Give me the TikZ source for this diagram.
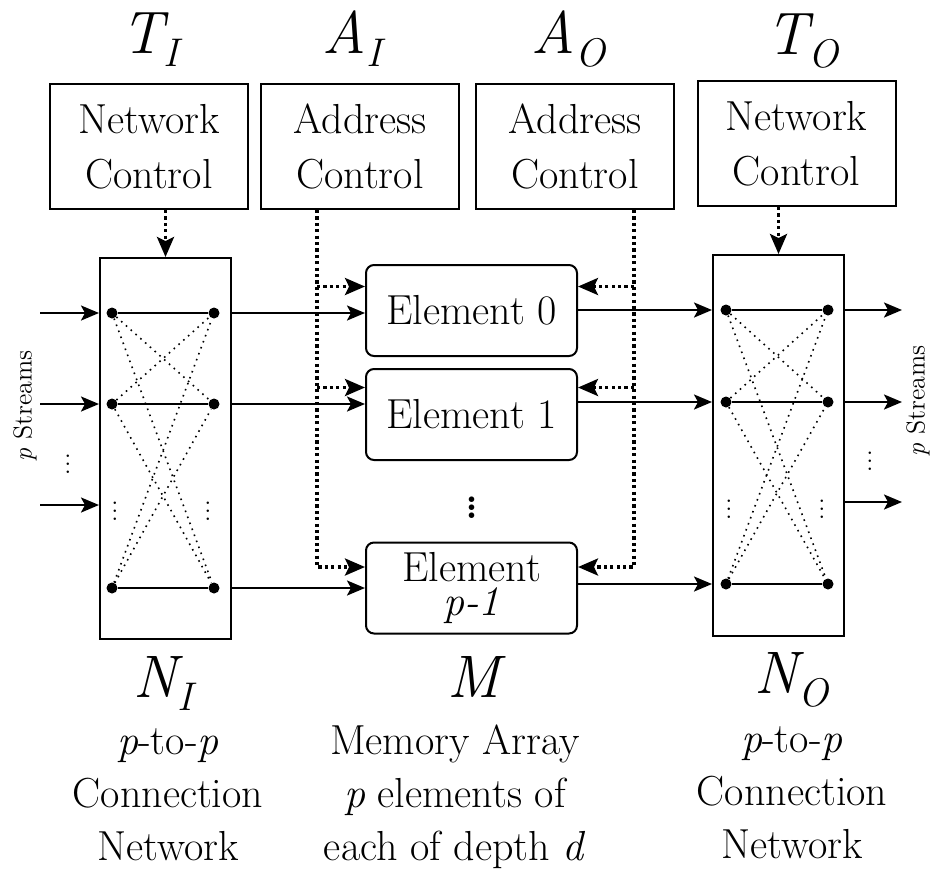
\documentclass[tikz,border=0pt]{standalone}
\usepackage{tikz}
\usetikzlibrary{arrows.meta,positioning}

\newcommand{\bigsym}[3][0em]{{\fontsize{30}{30}\selectfont\textit{#2}\kern#1\raisebox{-0.23em}{\fontsize{20}{20}\selectfont\textit{#3}}}}

\begin{document}
\begin{tikzpicture}[x=0.5pt, y=-0.5pt,
ctrlbox/.style={draw, line width=1pt, minimum width=99pt, minimum height=62.5pt, inner sep=0pt, align=center, font=\fontsize{21}{27.5}\selectfont},
netbox/.style={draw, line width=1pt, minimum width=65.5pt, minimum height=190.5pt, inner sep=0pt},
elem/.style={draw, line width=1pt, rounded corners=4pt, minimum width=105.5pt, minimum height=45.5pt, inner sep=0pt, align=center, font=\fontsize{21}{24}\selectfont},
dot/.style={circle, fill, inner sep=0pt, minimum size=5.5pt},
vd/.style={inner sep=0pt, font=\fontsize{13}{13}\selectfont},
lbl/.style={inner sep=0pt, align=center, font=\fontsize{21}{26.5}\selectfont},
arr/.style={-{Stealth[length=9pt, width=7.5pt, inset=2pt]}, line width=1.2pt},
ctl/.style={-{Stealth[length=10pt, width=8.5pt, inset=2pt]}, line width=1.6pt, dash pattern=on 1.6pt off 1.6pt},
link/.style={line width=0.7pt},
xlink/.style={line width=0.8pt, dash pattern=on 0.8pt off 2.4pt}
]
\useasboundingbox (0,0) rectangle (930,869);

% Control boxes
\node[ctrlbox] (tic) at (149,146.5) {Network\\Control};
\node[ctrlbox, right=5.5pt of tic] (aic) {Address\\Control};
\node[ctrlbox, right=7.5pt of aic] (aoc) {Address\\Control};
\node[ctrlbox] (toc) at (796.5,143.5) {Network\\Control};

\node[anchor=base] (tilbl) at (152,53) {\bigsym[-0.1em]{T}{I}};
\node[anchor=base] (ailbl) at (354,53) {\bigsym{A}{I}};
\node[anchor=base] (aolbl) at (569,53) {\bigsym{A}{O}};
\node[anchor=base] (tolbl) at (803,54) {\bigsym[-0.1em]{T}{O}};

% Connection networks
\node[netbox] (ni) at (165.5,448.5) {};
\node[netbox] (no) at (778.5,445.5) {};

\node[dot] (niL0) at (112,313) {};
\node[dot] (niR0) at (214,313) {};
\node[dot] (niL1) at (112,404) {};
\node[dot] (niR1) at (214,404) {};
\node[dot] (niL2) at (112,588) {};
\node[dot] (niR2) at (214,588) {};
\node[vd] (niVL) at (115,505) {$\vdots$};
\node[vd] (niVR) at (208,505) {$\vdots$};

\node[dot] (noL0) at (726,310) {};
\node[dot] (noR0) at (828,310) {};
\node[dot] (noL1) at (726,402) {};
\node[dot] (noR1) at (828,402) {};
\node[dot] (noL2) at (726,584) {};
\node[dot] (noR2) at (828,584) {};
\node[vd] (noVL) at (729,503) {$\vdots$};
\node[vd] (noVR) at (822,503) {$\vdots$};

\draw[link] (niL0) -- (niR0);
\draw[link] (niL1) -- (niR1);
\draw[link] (niL2) -- (niR2);
\draw[xlink] (niL0) -- (niR1);
\draw[xlink] (niL0) -- (niR2);
\draw[xlink] (niL1) -- (niR0);
\draw[xlink] (niL1) -- (niR2);
\draw[xlink] (niL2) -- (niR0);
\draw[xlink] (niL2) -- (niR1);

\draw[link] (noL0) -- (noR0);
\draw[link] (noL1) -- (noR1);
\draw[link] (noL2) -- (noR2);
\draw[xlink] (noL0) -- (noR1);
\draw[xlink] (noL0) -- (noR2);
\draw[xlink] (noL1) -- (noR0);
\draw[xlink] (noL1) -- (noR2);
\draw[xlink] (noL2) -- (noR0);
\draw[xlink] (noL2) -- (noR1);

% Memory elements
\node[elem] (e0) at (471.5,310.5) {Element 0};
\node[elem, below=5.5pt of e0] (e1) {Element 1};
\node[inner sep=0pt, font=\fontsize{34}{34}\selectfont] (edots) at (471.5,502) {$\vdots$};
\node[elem] (ep) at (471.5,588) {Element\\[-7pt]\textit{p-1}};

% Streams
\coordinate (in0) at (40,313);
\coordinate (in1) at (40,404);
\coordinate (in2) at (40,505);
\coordinate (out0) at (902,310);
\coordinate (out1) at (902,402);
\coordinate (out2) at (902,502);
\node[rotate=90, inner sep=0pt, font=\fontsize{13}{13}\selectfont] (instr) at (25,406) {\textit{p} Streams};
\node[rotate=90, inner sep=0pt, font=\fontsize{13}{13}\selectfont] (outstr) at (918,401) {\textit{p} Streams};
\node[vd] (indots) at (68,458) {$\vdots$};
\node[vd] (outdots) at (870,455) {$\vdots$};

\draw[arr] (in0) -- (in0 -| ni.west);
\draw[arr] (in1) -- (in1 -| ni.west);
\draw[arr] (in2) -- (in2 -| ni.west);
\draw[arr] (out0 -| no.east) -- (out0);
\draw[arr] (out1 -| no.east) -- (out1);
\draw[arr] (out2 -| no.east) -- (out2);

% Data paths
\draw[arr] (niR0 -| ni.east) -- (niR0 -| e0.west);
\draw[arr] (niR1 -| ni.east) -- (niR1 -| e1.west);
\draw[arr] (niR2 -| ni.east) -- (niR2 -| ep.west);
\draw[arr] (noL0 -| e0.east) -- (noL0 -| no.west);
\draw[arr] (noL1 -| e1.east) -- (noL1 -| no.west);
\draw[arr] (noL2 -| ep.east) -- (noL2 -| no.west);

% Control paths
\coordinate (aiT) at ([xshift=28.5pt]aic.south west);
\coordinate (aoT) at ([xshift=-20.5pt]aoc.south east);
\coordinate (e0in) at ([yshift=12pt]e0.west);
\coordinate (e1in) at ([yshift=13.5pt]e1.west);
\coordinate (epin) at ([yshift=10.5pt]ep.west);
\coordinate (e0out) at ([yshift=12pt]e0.east);
\coordinate (e1out) at ([yshift=13.5pt]e1.east);
\coordinate (epout) at ([yshift=10.5pt]ep.east);

\draw[ctl] (ni.north |- tic.south) -- (ni.north);
\draw[ctl] (no.north |- toc.south) -- (no.north);
\draw[ctl] (aiT) |- (epin);
\draw[ctl] (aiT |- e0in) -- (e0in);
\draw[ctl] (aiT |- e1in) -- (e1in);
\draw[ctl] (aoT) |- (epout);
\draw[ctl] (aoT |- e0out) -- (e0out);
\draw[ctl] (aoT |- e1out) -- (e1out);

% Bottom labels
\node[anchor=base] (nilbl) at (165,697) {\bigsym[-0.1em]{N}{I}};
\node[anchor=base] (mlbl) at (477,697) {\fontsize{30}{30}\selectfont\textit{M}};
\node[anchor=base] (nolbl) at (792,693) {\bigsym[-0.1em]{N}{O}};
\node[lbl, anchor=base] (nitxt) at (168,860) {\textit{p}-to-\textit{p}\\Connection\\Network};
\node[lbl, anchor=base] (mtxt) at (455,860) {Memory Array\\\textit{p} elements of\\each of depth \textit{d}};
\node[lbl, anchor=base] (notxt) at (792,858) {\textit{p}-to-\textit{p}\\Connection\\Network};
\end{tikzpicture}
\end{document}
